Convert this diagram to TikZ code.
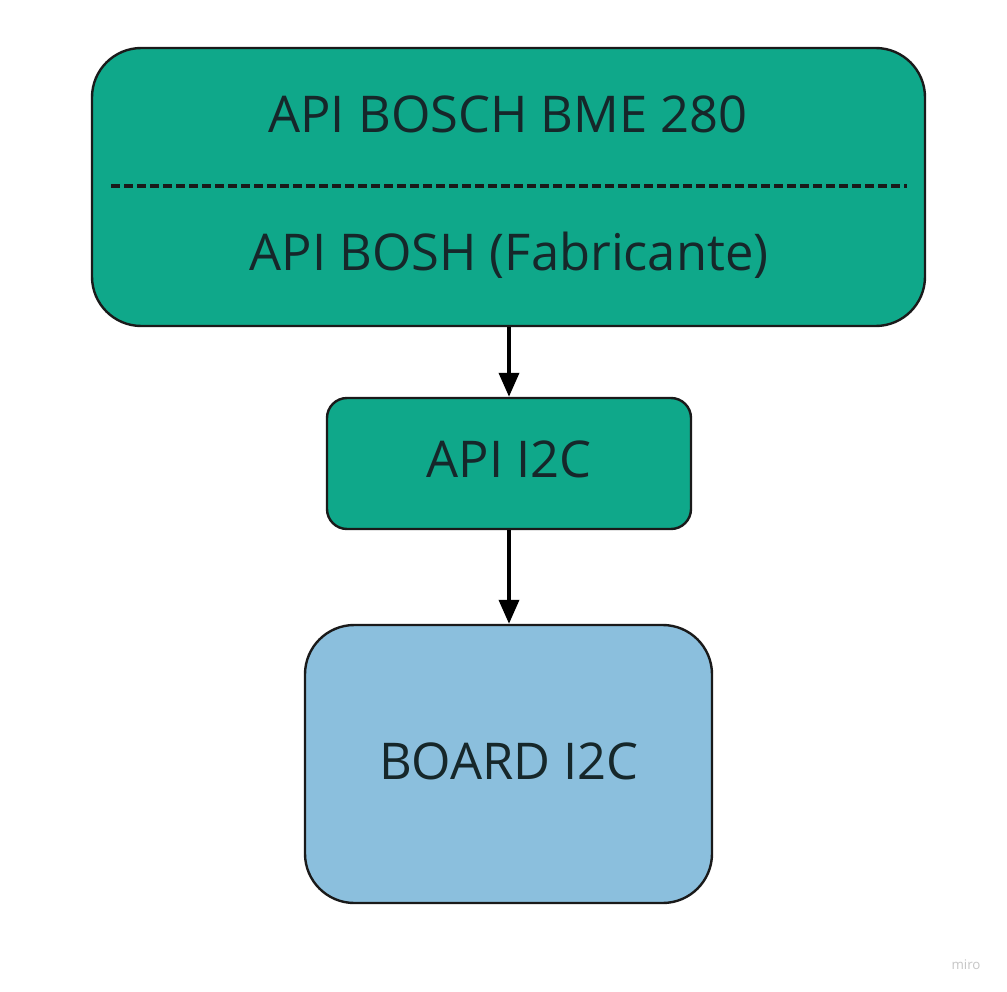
\documentclass[tikz,border=0pt]{standalone}
\usepackage{fontspec}
\setmainfont{Open Sans}
\usetikzlibrary{arrows.meta}
\definecolor{boxgreen}{HTML}{0FA88A}
\definecolor{boxblue}{HTML}{8BBFDD}
\definecolor{edgec}{HTML}{1A1A1A}
\definecolor{txtc}{HTML}{16272A}
\begin{document}
\begin{tikzpicture}[x=0.75pt,y=-0.75pt,
  box/.style={draw=edgec, line width=1.8pt, inner sep=0pt},
  lbl/.style={anchor=base, inner sep=0pt, text=txtc, font=\fontsize{38}{46}\selectfont},
  conn/.style={line width=2.8pt, -{Triangle[length=18pt,width=15pt]}}]
\useasboundingbox[fill=white] (0,0) rectangle (1007,992);
\node[box, fill=boxgreen, rounded corners=37pt, minimum width=624.75pt, minimum height=208.5pt] (top) at (508.5,187) {};
\node[lbl] (t1) at (508,132) {API BOSCH BME 280};
\node[lbl] (t2) at (509,270) {API BOSH (Fabricante)};
\coordinate (dl) at (111,186);
\coordinate (dr) at (907,186);
\draw[line width=3pt, edgec, dash pattern=on 6.75pt off 3pt] (dl) -- (dr);
\node[box, fill=boxgreen, rounded corners=15pt, minimum width=273pt, minimum height=98.25pt] (mid) at (509,463.5) {};
\node[lbl] (t3) at (509,477) {API I2C};
\node[box, fill=boxblue, rounded corners=37pt, minimum width=305.25pt, minimum height=208.5pt] (bot) at (508.5,764) {};
\node[lbl] (t4) at (509,779) {BOARD I2C};
\draw[conn] (mid.north |- top.south) -- (mid.north);
\draw[conn] (mid.south) -- (mid.south |- bot.north);
\node[inner sep=0pt, text=gray!45, font=\fontsize{10}{12}\selectfont] (miro) at (966,965) {miro};
\end{tikzpicture}
\end{document}
